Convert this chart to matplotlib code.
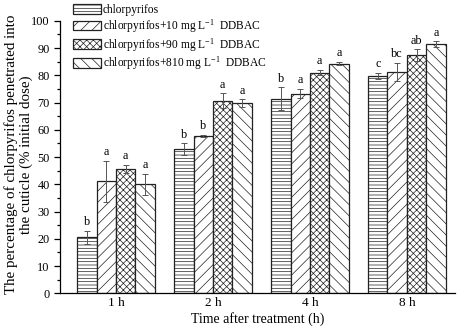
import matplotlib
matplotlib.use("Agg")
import matplotlib.pyplot as plt
import numpy as np

plt.rcParams['font.family'] = ['Liberation Serif', 'DejaVu Serif']
plt.rcParams['mathtext.fontset'] = 'custom'
plt.rcParams['mathtext.rm'] = 'Liberation Serif'
plt.rcParams['mathtext.it'] = 'Liberation Serif:italic'
plt.rcParams['hatch.linewidth'] = 0.5

groups = ['1 h', '2 h', '4 h', '8 h']
series = ['chlorpyrifos',
          'chlorpyrifos+10 mg L$^{\\mathrm{-1}}$  DDBAC',
          'chlorpyrifos+90 mg L$^{\\mathrm{-1}}$  DDBAC',
          'chlorpyrifos+810 mg L$^{\\mathrm{-1}}$  DDBAC']
values = [
    [20.5, 52.8, 71.4, 79.7],
    [41.1, 57.7, 73.3, 81.3],
    [45.6, 70.7, 81.0, 87.3],
    [40.0, 69.7, 84.3, 91.5],
]
errors = [
    [2.5, 2.2, 4.2, 1.2],
    [7.5, 0.5, 1.8, 3.3],
    [1.6, 2.7, 1.0, 2.2],
    [3.9, 1.5, 0.5, 1.0],
]
letters = [
    ['b', 'b', 'b', 'c'],
    ['a', 'b', 'a', 'bc'],
    ['a', 'a', 'a', 'ab'],
    ['a', 'a', 'a', 'a'],
]
hatches = ['-----', '///', 'xxxxx', '\\\\\\']

fig = plt.figure(figsize=(4.59, 3.31), dpi=100)
ax = fig.add_axes([0.131, 0.114, 0.86, 0.823])

x = np.arange(1, len(groups) + 1)
w = 0.2
for i in range(4):
    pos = x + (i - 1.5) * w
    ax.bar(pos, values[i], width=w, color='white', edgecolor='#222222',
           linewidth=0.9, hatch=hatches[i], label=series[i], zorder=2)
    ax.errorbar(pos, values[i], yerr=errors[i], fmt='none', ecolor='#555555',
                elinewidth=0.7, capsize=2.5, capthick=0.7, zorder=3)
    for p, v, e, t in zip(pos, values[i], errors[i], letters[i]):
        ax.annotate(t, (p, v + e), xytext=(0, 2), textcoords='offset points',
                    ha='center', va='bottom', fontsize=8.8)

ax.set_xlim(0.423, 4.495)
ax.set_ylim(0, 100)
ax.set_xticks(x)
ax.set_xticklabels(groups, fontsize=9.5)
ax.tick_params(axis='x', length=0, pad=3)
ax.set_yticks(np.arange(0, 101, 10))
ax.set_yticks(np.arange(5, 100, 10), minor=True)
ax.tick_params(axis='y', which='major', length=4, width=0.9, labelsize=8.8, direction='out')
ax.tick_params(axis='y', which='minor', length=2.5, width=0.9, direction='out')
ax.spines['top'].set_visible(False)
ax.spines['right'].set_visible(False)
ax.spines['left'].set_linewidth(0.9)
ax.spines['bottom'].set_linewidth(0.9)

ax.set_xlabel('Time after treatment (h)', fontsize=10, labelpad=2)
ax.set_ylabel('The percentage of chlorpyrifos penetrated into\nthe cuticle (% initial dose)',
              fontsize=10.8, labelpad=4, linespacing=1.15)
ax.yaxis.set_label_coords(-0.069, 0.51)

leg = ax.legend(loc='upper left', bbox_to_anchor=(73 / 459, 1 - 4 / 331),
                bbox_transform=fig.transFigure, frameon=False, fontsize=8.3,
                handlelength=2.4, handleheight=0.9, handletextpad=0.2,
                labelspacing=0.1, borderpad=0, borderaxespad=0)

fig.savefig('out.png', dpi=100)
